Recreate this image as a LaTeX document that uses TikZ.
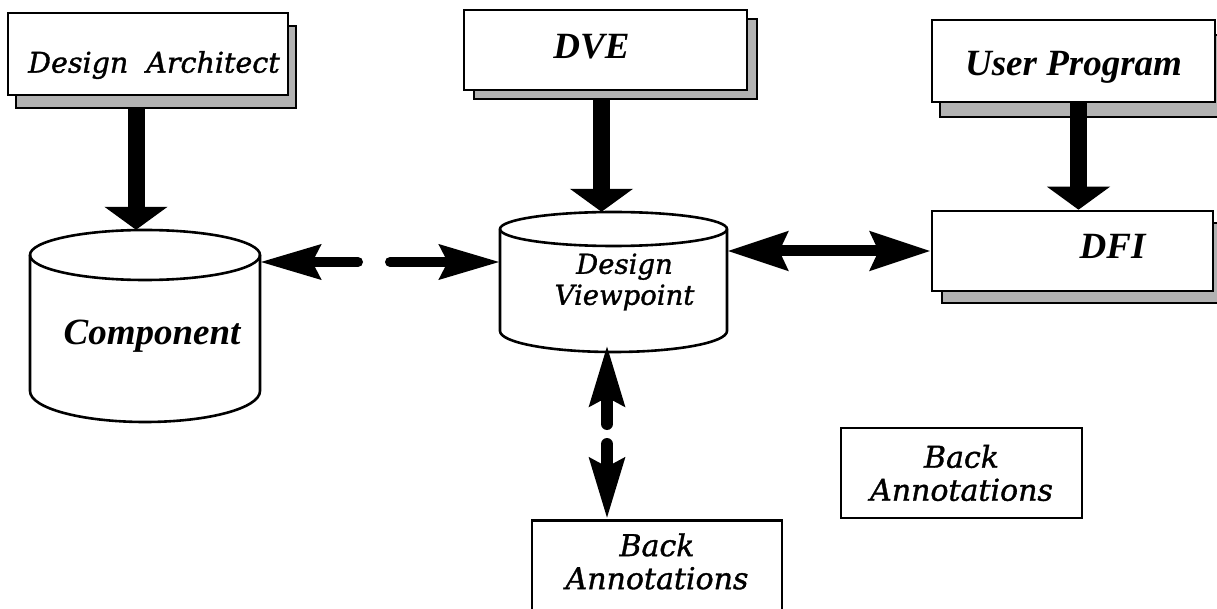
\documentclass[tikz,border=0pt]{standalone}
\usepackage{fontspec}
\setmainfont{DejaVu Serif}[ItalicFeatures={FakeBold=1.2}]
\newfontfamily\tnr{Liberation Serif}
\usetikzlibrary{arrows.meta,shadows}
\begin{document}
\begin{tikzpicture}[x=1pt,y=-1pt,
  box/.style={draw, line width=2.6pt, fill=white, inner sep=0pt},
  shad/.style 2 args={drop shadow={shadow xshift=#1, shadow yshift=#2, opacity=1, fill=gray!60, draw=black, line width=1.2pt}},
  cyl/.style={draw, line width=2.6pt, fill=white},
  bigarrow/.style={line width=17pt, -{Triangle[length=23pt,width=62pt]}},
  dblarrow/.style={line width=11pt, {Stealth[length=60pt,width=38pt,inset=8pt]}-{Stealth[length=60pt,width=38pt,inset=8pt]}},
  dasharrow/.style={line width=10pt, line cap=round, -{Stealth[length=60pt,width=34pt,inset=8pt]}},
  itf/.style={font=\fontsize{30}{33}\selectfont\itshape},
  bif/.style={font=\tnr\fontsize{37}{40}\selectfont\bfseries\itshape},
]
\clip (0,0) rectangle (1217,609);
% boxes with shadows
\node[box, shad={8pt}{-13pt}, minimum width=280pt, minimum height=82pt, font=\fontsize{28.5}{30}\selectfont\itshape] (da) at (148,54)
  {\raisebox{-11pt}[\height][\depth]{\hspace*{12pt}Design\ \ Architect}};
\node[box, shad={10pt}{-9pt}, minimum width=283pt, minimum height=80pt, bif] (dve) at (605.5,50)
  {\raisebox{3pt}[\height][\depth]{DVE\hspace*{28pt}}};
\node[box, shad={8pt}{-15pt}, minimum width=283pt, minimum height=82pt, bif] (up) at (1073.5,61)
  {\raisebox{-6pt}[\height][\depth]{User Program}};
\node[box, shad={10pt}{-12pt}, minimum width=281pt, minimum height=80pt, bif] (dfi) at (1072.5,251)
  {\raisebox{5pt}[\height][\depth]{\hspace*{80pt}DFI}};
% Component cylinder
\draw[cyl] (30,255) -- (30,391) arc[start angle=180, end angle=0, x radius=115, y radius=31]
  -- (260,255) arc[start angle=0, end angle=-180, x radius=115, y radius=25] -- cycle;
\draw[line width=2.6pt] (30,255) arc[start angle=180, end angle=0, x radius=115, y radius=25];
\node[minimum width=230pt, minimum height=192pt, inner sep=0pt, bif] (comp) at (145,326)
  {\raisebox{-10pt}[\height][\depth]{\hspace*{14pt}Component}};
% Design Viewpoint cylinder
\draw[cyl] (500,229) -- (500,331) arc[start angle=180, end angle=0, x radius=113.5, y radius=21]
  -- (727,229) arc[start angle=0, end angle=-180, x radius=113.5, y radius=17] -- cycle;
\draw[line width=2.6pt] (500,229) arc[start angle=180, end angle=0, x radius=113.5, y radius=17];
\node[minimum width=227pt, minimum height=140pt, inner sep=0pt, align=center, font=\fontsize{27.5}{31}\selectfont\itshape] (dv) at (613.5,282)
  {\hspace*{22pt}Design\\\hspace*{22pt}Viewpoint};
% Back annotations
\node[draw, line width=2.6pt, anchor=north, minimum width=250pt, inner xsep=0pt, inner ysep=13pt, text depth=70pt, align=center, itf] (ba1) at (657,519)
  {Back\\Annotations};
\node[box, minimum width=241pt, minimum height=90pt, align=center, itf] (ba2) at (961.5,473)
  {Back\\Annotations};
% connectors
\draw[bigarrow] ([xshift=-12pt,yshift=-13pt]da.south) -- ([xshift=-9pt]comp.north);
\draw[bigarrow] ([xshift=-4pt,yshift=-8pt]dve.south) -- ([xshift=-12pt]dv.north);
\draw[bigarrow] ([xshift=5pt]up.south) -- ([xshift=6pt]dfi.north);
\draw[dblarrow, yshift=6pt] (dv.east |- dfi.west) -- (dfi.west);
\coordinate (hL) at (358,262);
\coordinate (hR) at (390,262);
\draw[dasharrow] (hL) -- (comp.east |- hL);
\draw[dasharrow] (hR) -- (dv.west |- hR);
\coordinate (vT) at (607,424);
\coordinate (vB) at (607,444);
\draw[dasharrow, line width=12pt] (vT) -- ([yshift=7pt]dv.south -| vT);
\draw[dasharrow, line width=12pt] (vB) -- (ba1.north -| vB);
\end{tikzpicture}
\end{document}
